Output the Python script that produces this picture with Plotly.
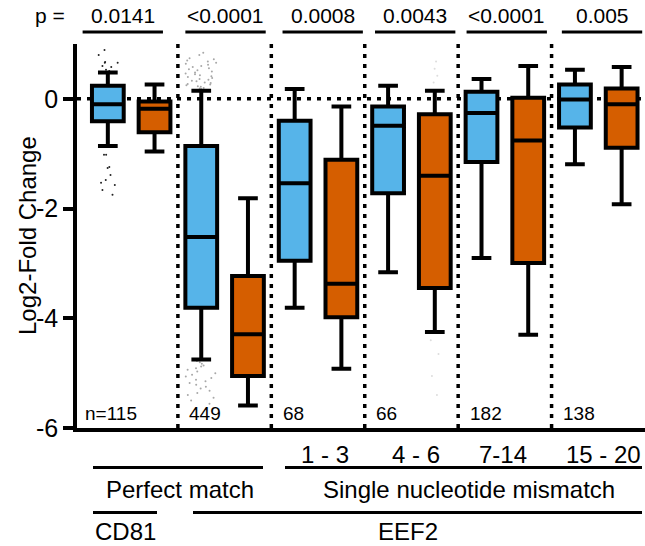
import plotly.graph_objects as go

# ---------------- data ----------------
groups = ["CD81 perfect", "EEF2 perfect", "1 - 3", "4 - 6", "7-14", "15 - 20"]
p_values = ["0.0141", "<0.0001", "0.0008", "0.0043", "<0.0001", "0.005"]
n_labels = ["n=115", "449", "68", "66", "182", "138"]
range_labels = ["1 - 3", "4 - 6", "7-14", "15 - 20"]

blue_upper = [0.48, 0.15, 0.18, 0.24, 0.36, 0.53]
blue_q3 = [0.24, -0.86, -0.40, -0.14, 0.13, 0.26]
blue_median = [-0.10, -2.52, -1.54, -0.49, -0.26, -0.01]
blue_q1 = [-0.41, -3.81, -2.95, -1.72, -1.15, -0.52]
blue_lower = [-0.86, -4.75, -3.81, -3.16, -2.90, -1.19]

orange_upper = [0.26, -1.81, -0.14, 0.15, 0.60, 0.58]
orange_q3 = [-0.05, -3.23, -1.11, -0.28, 0.02, 0.19]
orange_median = [-0.18, -4.29, -3.37, -1.40, -0.76, -0.10]
orange_q1 = [-0.61, -5.05, -3.98, -3.45, -2.99, -0.89]
orange_lower = [-0.96, -5.59, -4.92, -4.25, -4.30, -1.92]

# outliers
cd81_blue_out = [0.89, 0.80, 0.67, 0.66, 0.66, 0.60, 0.58, 0.53, 0.51,
                 -1.02, -1.02, -1.24, -1.26, -1.39, -1.48, -1.53, -1.57, -1.66, -1.75]
eef2_blue_out = [0.84, 0.80, 0.74, 0.72, 0.70, 0.68, 0.66, 0.64, 0.62, 0.60,
                 0.58, 0.56, 0.54, 0.52, 0.50, 0.48, 0.46, 0.45, 0.43, 0.41,
                 0.40, 0.38, 0.36, 0.35, 0.33, 0.32, 0.30, 0.29, 0.27, 0.26,
                 0.25, 0.23, 0.22, 0.20, 0.19, 0.18,
                 -4.78, -4.80, -4.83, -4.86, -4.88, -4.91, -4.94, -4.97, -5.00,
                 -5.03, -5.06, -5.09, -5.12, -5.15, -5.18, -5.21, -5.25, -5.28,
                 -5.32, -5.36, -5.40, -5.45, -5.50, -5.56]
mm46_orange_out = [0.68, 0.55, 0.42, 0.30, -4.40, -4.65, -5.05, -5.40]

BLUE = "#56B4E9"
ORANGE = "#D55E00"
FONT = "Liberation Sans, Arial, Helvetica, sans-serif"

idx = list(range(len(groups)))
blue_x = [i - 0.25 for i in idx]
orange_x = [i + 0.25 for i in idx]
BOXW = 0.34

fig = go.Figure()

# outlier dots (drawn first so boxes sit on top)
def outliers(xpos, vals, color, jit):
    fig.add_trace(go.Box(
        x=[xpos] * len(vals), y=vals, boxpoints="all", jitter=jit, pointpos=0,
        width=BOXW, fillcolor="rgba(0,0,0,0)", line=dict(width=0, color="rgba(0,0,0,0)"),
        marker=dict(size=2, color=color), showlegend=False, hoverinfo="skip"))

outliers(blue_x[0], cd81_blue_out, "#222222", 0.7)
outliers(blue_x[1], eef2_blue_out, "#a8a8a8", 1.0)
outliers(orange_x[3], mm46_orange_out, "#dddddd", 0.3)

for xs, q1, med, q3, lo, hi, col in [
        (blue_x, blue_q1, blue_median, blue_q3, blue_lower, blue_upper, BLUE),
        (orange_x, orange_q1, orange_median, orange_q3, orange_lower, orange_upper, ORANGE)]:
    fig.add_trace(go.Box(
        x=xs, q1=q1, median=med, q3=q3, lowerfence=lo, upperfence=hi,
        width=BOXW, whiskerwidth=0.62, fillcolor=col,
        line=dict(color="black", width=4), boxpoints=False, showlegend=False))

L, R, T, B = 77, 0, 44, 118
W, H = 645, 546
PW, PH = W - L - R, H - T - B

def px_x(px):
    return (px - L) / PW

def px_y(py):
    return (H - B - py) / PH

shapes = []
dot = "4px,6px"
# horizontal dotted zero line
shapes.append(dict(type="line", xref="paper", yref="y", x0=0, x1=1, y0=0, y1=0,
                   line=dict(color="black", width=3.5, dash=dot), layer="below"))
# vertical dotted separators
for i in idx[:-1]:
    shapes.append(dict(type="line", xref="x", yref="y", x0=i + 0.5, x1=i + 0.5, y0=-6, y1=1.0,
                       line=dict(color="black", width=3.5, dash=dot), layer="below"))

annotations = []

def txt(text, x, y, size, xref="paper", yref="paper", xanchor="center", angle=0):
    annotations.append(dict(text=text, xref=xref, yref=yref, x=x, y=y, xanchor=xanchor,
                            yanchor="middle", textangle=angle, showarrow=False,
                            font=dict(size=size, family=FONT, color="black")))

# p = and p values with underlines
txt("p =", px_x(50), px_y(16), 21)
p_centers = [-0.09, 1.01, 2.05, 3.04, 4.02, 5.04]
for c, p in zip(p_centers, p_values):
    txt(p, c, px_y(16), 21, xref="x")
    shapes.append(dict(type="line", xref="x", yref="paper", x0=c - 0.43, x1=c + 0.43,
                       y0=px_y(32), y1=px_y(32), line=dict(color="black", width=3)))

# n labels
n_x = [-0.52] + [i + 0.5 + 0.1 for i in idx[:-1]]
for x, t in zip(n_x, n_labels):
    txt(t, x, -5.73, 19, xref="x", yref="y", xanchor="left")

# range labels under the axis
r_centers = [2.07, 3.05, 3.98, 5.06]
for c, t in zip(r_centers, range_labels):
    txt(t, c, px_y(454), 24, xref="x")

# group lines and labels
for x0, x1, yy in [(93, 263, 467.5), (285, 642, 467.5), (93, 157, 512.5), (193, 642, 512.5)]:
    shapes.append(dict(type="line", xref="paper", yref="paper", x0=px_x(x0), x1=px_x(x1),
                       y0=px_y(yy), y1=px_y(yy), line=dict(color="black", width=3)))
for t, cx, cy in [("Perfect match", 180, 489), ("Single nucleotide mismatch", 469, 489),
                  ("CD81", 125, 531), ("EEF2", 408, 531)]:
    txt(t, px_x(cx), px_y(cy), 24)

# y title
txt("Log2-Fold Change", px_x(27), px_y(236), 24, angle=-90)

fig.update_layout(
    width=W, height=H, margin=dict(l=L, r=R, t=T, b=B, pad=0, autoexpand=False),
    plot_bgcolor="white", paper_bgcolor="white", boxmode="overlay",
    font=dict(family=FONT, color="black"),
    shapes=shapes, annotations=annotations, showlegend=False,
    xaxis=dict(range=[-0.58, 5.5], showline=True, linecolor="black", linewidth=3.5,
               showticklabels=False, ticks="", showgrid=False, zeroline=False, fixedrange=True,
               automargin=False),
    yaxis=dict(range=[-6, 1.0], showline=True, linecolor="black", linewidth=3.5,
               tickvals=[0, -2, -4, -6], ticktext=["0", "-2", "-4", "-6"],
               ticks="outside", ticklen=10, tickwidth=3.5, tickcolor="black",
               tickfont=dict(size=25, family=FONT, color="black"),
               showgrid=False, zeroline=False, fixedrange=True, automargin=False),
)

fig.write_html("out.html", config={"displayModeBar": False},
               post_script="document.body.style.margin='0';document.body.style.overflow='hidden';")
